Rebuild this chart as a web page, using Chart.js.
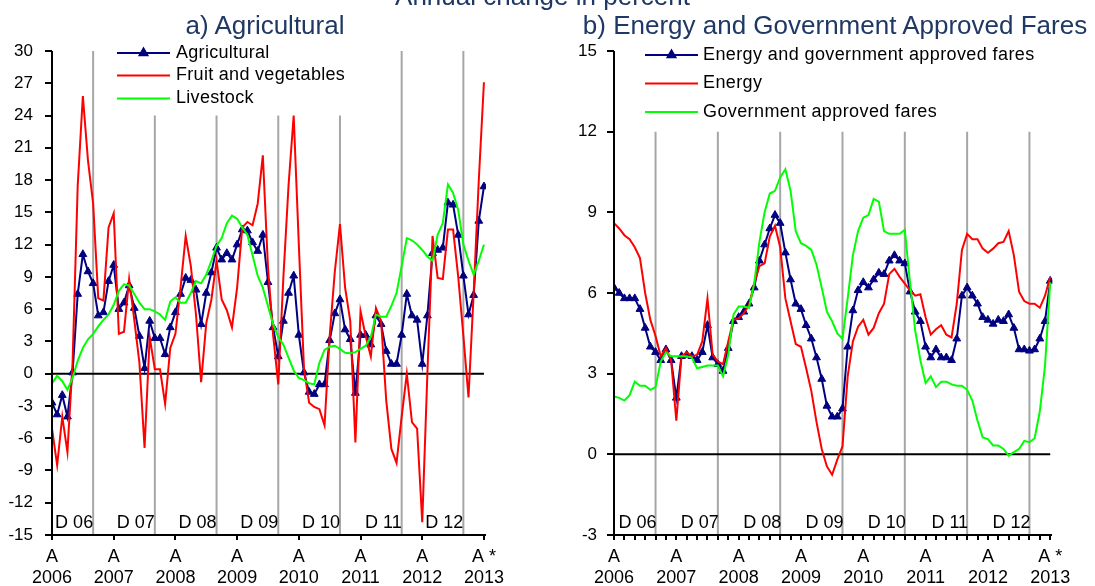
<!DOCTYPE html>
<html>
<head>
<meta charset="utf-8">
<script src="https://cdn.jsdelivr.net/npm/chart.js@4.4.1/dist/chart.umd.min.js"></script>
<style>
    html, body { margin: 0; padding: 0; background: #fff; overflow: hidden; }
    #wrap { position: relative; width: 1095px; height: 586px; overflow: hidden; }
    canvas { position: absolute; top: 0; }
    .title {
        position: absolute;
        font-family: 'Liberation Sans', Arial, sans-serif;
        font-size: 26px;
        line-height: 30px;
        color: #1f3864;
        white-space: nowrap;
        text-align: center;
    }
</style>
</head>
<body>
<div id="wrap">
    <canvas id="agriChart" width="547" height="586" style="left:0"></canvas>
    <canvas id="energyChart" width="548" height="586" style="left:547px"></canvas>
    <canvas id="agriAxes" width="547" height="586" style="left:0; pointer-events:none"></canvas>
    <canvas id="energyAxes" width="548" height="586" style="left:547px; pointer-events:none"></canvas>
    <div class="title" style="left:0; width:1085px; top:-19px;">Annual change in percent</div>
    <div class="title" style="left:165px; width:200px; top:10px;">a) Agricultural</div>
    <div class="title" style="left:535px; width:600px; top:10px;">b) Energy and Government Approved Fares</div>
</div>
<script>
// Monthly data, April 2006 .. April 2013 (85 months), annual change in percent
const agricultural = [
    -2.7, -3.8, -2.0, -4.0, 0.1, 7.4, 11.1, 9.5, 8.4, 5.4,
    5.7, 8.6, 10.1, 6.0, 6.6, 8.2, 6.1, 3.5, 0.5, 4.9,
    3.3, 3.3, 1.8, 4.3, 5.7, 7.4, 8.9, 8.7, 7.8, 4.6,
    7.5, 9.4, 11.7, 10.6, 11.2, 10.6, 12.0, 13.4, 13.3, 12.2,
    11.4, 12.9, 8.5, 4.3, 1.6, 4.9, 7.5, 9.1, 3.6, 0.1,
    -1.7, -1.9, -1.0, -1.0, 3.1, 5.6, 6.9, 4.1, 3.2, -1.8,
    3.6, 3.6, 2.7, 5.4, 4.6, 2.1, 0.9, 0.9, 3.6, 7.4,
    5.4, 5.0, 0.9, 5.4, 11.2, 11.5, 11.7, 15.9, 15.7, 12.9,
    9.1, 5.5, 7.3, 14.2, 17.4
];
const fruitVeg = [
    -5.1, -8.5, -4.0, -7.3, 1.0, 17.5, 25.8, 19.8, 15.8, 7.0,
    6.8, 13.6, 14.9, 3.7, 3.9, 8.8, 5.0, 1.0, -6.9, 3.4,
    0.4, 0.4, -2.8, 2.4, 3.7, 8.0, 12.8, 10.0, 5.5, -0.8,
    4.7, 6.9, 10.5, 6.9, 5.9, 4.3, 8.0, 13.6, 14.1, 13.8,
    15.8, 20.3, 9.9, 3.6, -1.0, 9.0, 17.5, 24.0, 12.0, 0.5,
    -2.7, -3.1, -3.3, -4.8, 3.5, 9.5, 13.9, 8.0, 4.9, -6.4,
    5.8, 3.5, 1.6, 6.1, 4.9, -2.5, -7.0, -8.3, -4.0, 0.0,
    -4.5, -5.1, -13.8, 0.0, 12.8, 8.9, 8.8, 13.4, 13.4, 9.0,
    3.5, -2.2, 7.5, 18.0, 27.1
];
const livestock = [
    -0.9, -0.2, -0.7, -1.5, -0.4, 1.2, 2.4, 3.2, 3.7, 4.4,
    5.0, 5.5, 6.4, 7.7, 8.3, 8.2, 7.4, 6.6, 6.0, 6.0,
    5.8, 5.5, 5.0, 6.7, 7.1, 6.6, 6.6, 7.5, 8.6, 8.4,
    9.2, 10.5, 11.9, 12.6, 14.0, 14.7, 14.4, 13.6, 12.9, 11.0,
    9.1, 8.0, 6.3, 4.6, 3.4, 2.7, 1.5, 0.3, -0.4, -0.6,
    -0.9, -1.0, 1.0, 2.2, 2.5, 2.6, 2.3, 1.95, 1.9, 2.0,
    2.3, 2.6, 3.4, 5.5, 5.3, 5.3, 6.3, 7.5, 10.0, 12.6,
    12.4, 12.0, 11.5, 10.9, 10.5, 12.9, 14.0, 17.6, 16.8, 15.2,
    12.0, 10.5, 9.2, 10.5, 12.0
];
const energyGovFares = [
    6.2, 6.0, 5.8, 5.8, 5.8, 5.4, 4.7, 4.0, 3.8, 3.5,
    3.9, 3.5, 2.1, 3.65, 3.7, 3.65, 3.5, 3.8, 4.8, 3.6,
    3.35, 3.1, 3.95, 4.95, 5.1, 5.3, 5.6, 6.2, 7.2, 7.8,
    8.4, 8.9, 8.6, 7.5, 6.5, 5.6, 5.4, 4.8, 4.3, 3.6,
    2.8, 1.8, 1.4, 1.4, 1.7, 4.0, 5.35, 6.1, 6.4, 6.2,
    6.5, 6.75, 6.7, 7.2, 7.4, 7.2, 7.1, 6.05, 5.3, 4.95,
    4.0, 3.6, 3.9, 3.6, 3.6, 3.5, 4.3, 5.9, 6.2, 5.9,
    5.6, 5.1, 5.0, 4.85, 5.0, 4.95, 5.2, 4.7, 3.9, 3.9,
    3.85, 3.9, 4.3, 4.95, 6.45
];
const energy = [
    8.6, 8.4, 8.15, 8.0, 7.7, 7.3, 6.0, 5.0, 4.4, 3.65,
    3.95, 3.5, 1.25, 3.65, 3.8, 3.65, 3.7, 4.2, 5.8, 3.7,
    3.45, 3.35, 4.2, 5.0, 5.05, 5.25, 5.55, 6.35, 7.0, 7.1,
    8.1, 8.5, 7.7, 5.8, 4.95, 4.1, 4.0, 3.2, 2.35, 1.2,
    0.2, -0.45, -0.76, -0.2, 0.3, 2.9, 4.2, 4.75, 5.0, 4.45,
    4.7, 5.25, 5.6, 6.7, 6.9, 6.6, 6.35, 6.1, 5.9, 5.95,
    5.1, 4.45, 4.65, 4.8, 4.45, 4.35, 5.6, 7.6, 8.2, 8.0,
    8.0, 7.65, 7.5, 7.65, 7.85, 7.9, 8.3, 7.4, 6.05, 5.7,
    5.6, 5.6, 5.45, 5.9, 6.6
];
const govFares = [
    2.15, 2.1, 2.0, 2.2, 2.7, 2.55, 2.55, 2.4, 2.5, 3.45,
    3.8, 3.65, 3.65, 3.65, 3.65, 3.6, 3.2, 3.25, 3.3, 3.3,
    3.3, 2.9, 3.7, 5.2, 5.5, 5.5, 5.45, 6.35, 7.9, 9.0,
    9.7, 9.8, 10.3, 10.6, 9.8, 8.3, 7.85, 7.75, 7.6, 7.05,
    6.2, 5.3, 4.95, 4.5, 4.3, 5.8, 7.4, 8.3, 8.8, 8.9,
    9.5, 9.4, 8.3, 8.2, 8.2, 8.2, 8.35, 6.4, 4.6, 3.5,
    2.65, 2.9, 2.5, 2.7, 2.7, 2.6, 2.55, 2.55, 2.4, 2.0,
    1.25, 0.63, 0.57, 0.33, 0.33, 0.2, -0.05, 0.08, 0.2, 0.5,
    0.45, 0.6, 1.6, 3.3, 6.4
];

// x axis: month index 0 = April 2006
const yearTicks = [0, 12, 24, 36, 48, 60, 72, 84];
const yearLabels = [
    ['A', '2006'], ['A', '2007'], ['A', '2008'], ['A', '2009'],
    ['A', '2010'], ['A', '2011'], ['A', '2012'], ['A *', '2013']
];
const decemberIdx = [8, 20, 32, 44, 56, 68, 80];
const decemberLabels = ['D 06', 'D 07', 'D 08', 'D 09', 'D 10', 'D 11', 'D 12'];
const decemberTopAgri = [30, 24, 24, 24, 24, 30, 30];
const decemberTopEnergy = [12, 12, 12, 12, 12, 12, 12];
const yTicksAgri = [-15, -12, -9, -6, -3, 0, 3, 6, 9, 12, 15, 18, 21, 24, 27, 30];
const yTicksEnergy = [-3, 0, 3, 6, 9, 12, 15];
const minorTicksEnergy = Array.from({ length: 43 }, (_, k) => 2 * k);

const FONT = "'Liberation Sans', Arial, sans-serif";
const toPoints = arr => arr.map((v, i) => ({ x: i, y: v }));

// vertical December markers as one broken line
function decemberSegments(bottom, tops) {
    const pts = [];
    decemberIdx.forEach((m, k) => {
        pts.push({ x: m, y: bottom }, { x: m, y: tops[k] }, { x: m, y: null });
    });
    return pts;
}

// "D yy" labels next to the December lines
const decemberText = {
    id: 'decemberText',
    afterDatasetsDraw(chart, args, opts) {
        const { ctx, scales: { x, y } } = chart;
        ctx.save();
        ctx.font = '18px ' + FONT;
        ctx.fillStyle = '#000';
        ctx.textAlign = 'right';
        ctx.textBaseline = 'middle';
        decemberIdx.forEach((m, k) => {
            ctx.fillText(decemberLabels[k], x.getPixelForValue(m) + opts.dx, y.bottom - 12);
        });
        ctx.restore();
    }
};

// legend drawn inside the plot, as in the original
const insideLegend = {
    id: 'insideLegend',
    afterDraw(chart, args, opts) {
        const ctx = chart.ctx;
        ctx.save();
        ctx.font = '18px ' + FONT;
        if ('letterSpacing' in ctx) ctx.letterSpacing = opts.spacing;
        ctx.textAlign = 'left';
        ctx.textBaseline = 'middle';
        opts.rows.forEach((dsIndex, k) => {
            const ds = chart.data.datasets[dsIndex];
            const y = opts.ys[k];
            ctx.strokeStyle = ds.borderColor;
            ctx.lineWidth = 2;
            ctx.beginPath();
            ctx.moveTo(opts.x0, y);
            ctx.lineTo(opts.x1, y);
            ctx.stroke();
            if (ds.pointStyle === 'triangle') {
                const cx = (opts.x0 + opts.x1) / 2, r = ds.pointRadius;
                ctx.fillStyle = ds.backgroundColor;
                ctx.beginPath();
                ctx.moveTo(cx, y - r);
                ctx.lineTo(cx + r * 0.866, y + r / 2);
                ctx.lineTo(cx - r * 0.866, y + r / 2);
                ctx.closePath();
                ctx.fill();
                ctx.stroke();
            }
            ctx.fillStyle = '#000';
            ctx.fillText(ds.label, opts.tx, y);
        });
        ctx.restore();
    }
};

// black axis lines with outward tick marks, placed with the chart's own scales
// (painted on a transparent overlay canvas above the chart)
const axisLines = {
    id: 'axisLines',
    afterDraw(chart, args, opts) {
        const cv = document.getElementById(opts.canvasId);
        const ctx = cv.getContext('2d');
        const { chartArea: a, scales: { x, y } } = chart;
        ctx.clearRect(0, 0, cv.width, cv.height);
        ctx.strokeStyle = '#000';
        ctx.lineWidth = 2;
        ctx.beginPath();
        ctx.moveTo(Math.round(a.left), Math.round(a.top));
        ctx.lineTo(Math.round(a.left), Math.round(a.bottom));
        ctx.lineTo(Math.round(a.right), Math.round(a.bottom));
        y.ticks.forEach(t => {
            const py = Math.round(y.getPixelForValue(t.value));
            ctx.moveTo(Math.round(a.left) - 7, py);
            ctx.lineTo(Math.round(a.left), py);
        });
        x.ticks.forEach(t => {
            const px = Math.round(x.getPixelForValue(t.value));
            ctx.moveTo(px, Math.round(a.bottom));
            ctx.lineTo(px, Math.round(a.bottom) + 5);
        });
        ctx.stroke();
    }
};

function makePanel(canvasId, p) {
    return new Chart(document.getElementById(canvasId), {
        type: 'line',
        data: {
            datasets: [
                {
                    label: 'December',
                    data: decemberSegments(p.yMin, p.decTop),
                    borderColor: '#a6a6a6',
                    borderWidth: 2,
                    pointRadius: 0,
                    spanGaps: false,
                    order: 10
                },
                {
                    label: 'zero',
                    data: [{ x: 0, y: 0 }, { x: 84, y: 0 }],
                    borderColor: '#000',
                    borderWidth: 2,
                    pointRadius: 0,
                    order: 9
                },
                {
                    label: p.names[0],
                    data: toPoints(p.series[0]),
                    borderColor: '#000080',
                    backgroundColor: '#000080',
                    borderWidth: 2,
                    pointStyle: 'triangle',
                    pointRadius: 4.5,
                    pointBorderWidth: 1,
                    order: 3
                },
                {
                    label: p.names[1],
                    data: toPoints(p.series[1]),
                    borderColor: '#ff0000',
                    borderWidth: 2,
                    pointRadius: 0,
                    order: 2
                },
                {
                    label: p.names[2],
                    data: toPoints(p.series[2]),
                    borderColor: '#00ff00',
                    borderWidth: 2,
                    pointRadius: 0,
                    order: 1
                }
            ]
        },
        options: {
            responsive: false,
            animation: false,
            events: [],
            layout: { padding: { top: 51, right: p.padRight, bottom: 0, left: 0 } },
            plugins: {
                legend: { display: false },
                tooltip: { enabled: false },
                decemberText: { dx: p.decDx },
                insideLegend: p.legend,
                axisLines: { canvasId: p.axesCanvas }
            },
            scales: {
                x: {
                    type: 'linear',
                    min: 0,
                    max: 84.4,
                    offset: false,
                    afterBuildTicks: s => { s.ticks = p.xTicks.map(v => ({ value: v })); },
                    afterFit: s => { s.height = 51; },
                    ticks: {
                        autoSkip: false,
                        maxRotation: 0,
                        padding: 6,
                        color: '#000',
                        font: { family: FONT, size: 18, lineHeight: 1.2 },
                        callback: v => {
                            const k = yearTicks.indexOf(v);
                            return k >= 0 ? yearLabels[k] : '';
                        }
                    },
                    grid: { display: false, offset: false, tickLength: 5 },
                    border: { display: false }
                },
                y: {
                    min: p.yMin,
                    max: p.yMax,
                    afterBuildTicks: s => { s.ticks = p.yTicks.map(v => ({ value: v })); },
                    afterFit: s => { s.width = p.yWidth; },
                    ticks: {
                        padding: p.yPad,
                        color: '#000',
                        font: { family: FONT, size: 17 }
                    },
                    grid: { display: false, tickLength: 7 },
                    border: { display: false }
                }
            }
        },
        plugins: [decemberText, insideLegend, axisLines]
    });
}

makePanel('agriChart', {
    names: ['Agricultural', 'Fruit and vegetables', 'Livestock'],
    series: [agricultural, fruitVeg, livestock],
    yMin: -15, yMax: 30, yTicks: yTicksAgri,
    decTop: decemberTopAgri,
    xTicks: yearTicks,
    yWidth: 52, yPad: 12, padRight: 61, decDx: 0,
    axesCanvas: 'agriAxes',
    legend: { rows: [2, 3, 4], ys: [53, 75.5, 98.5], x0: 117, x1: 170, tx: 176, spacing: '0.3px' }
});

makePanel('energyChart', {
    names: ['Energy and government approved fares', 'Energy', 'Government approved fares'],
    series: [energyGovFares, energy, govFares],
    yMin: -3, yMax: 15, yTicks: yTicksEnergy,
    decTop: decemberTopEnergy,
    xTicks: minorTicksEnergy,
    yWidth: 67, yPad: 10, padRight: 42.7, decDx: 1,
    axesCanvas: 'energyAxes',
    legend: { rows: [2, 3, 4], ys: [55, 83.5, 112], x0: 98, x1: 151, tx: 156, spacing: '0.4px' }
});
</script>
</body>
</html>
